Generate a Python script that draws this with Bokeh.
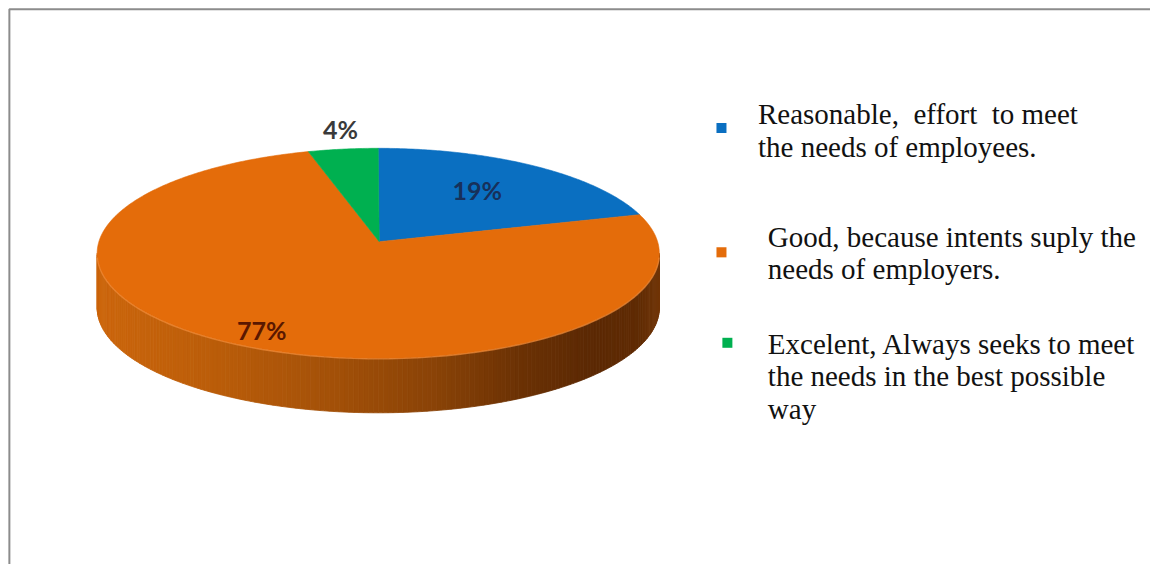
import numpy as np
from bokeh.plotting import figure
from bokeh.models import Range1d
from bokeh.core.properties import value
from bokeh.embed import file_html
from bokeh.resources import INLINE

# ---- data ----
categories = ["Reasonable", "Good", "Excelent"]
percentages = [19, 77, 4]
slice_colors = ["#0A6FC1", "#E46C0A", "#00B050"]
label_colors = ["#17305A", "#5A1800", "#3A3A3A"]
legend_lines = [
    ["Reasonable,\u00a0 effort\u00a0 to meet", "the needs of employees."],
    ["Good, because intents suply the", "needs of employers."],
    ["Excelent, Always seeks to meet", "the needs in the best possible", "way"],
]

# ---- geometry (reference pixel space) ----
CX, CY = 383.0, 260.0      # top ellipse centre
RX, RY = 285.0, 108.0      # top ellipse radii
VX, VY = 384.0, 248.0      # apparent wedge apex (perspective)
DEPTH = 56.0

p = figure(width=1150, height=564, x_range=Range1d(0, 1166), y_range=Range1d(580, 0),
           output_backend="svg", toolbar_location=None, min_border=0)
p.axis.visible = False
p.grid.visible = False
p.outline_line_color = None
p.background_fill_color = "white"
p.border_fill_color = "white"

# frame lines of the original picture
p.line([9, 9, 1180], [600, 9, 9], line_color="#8c8c8c", line_width=2)

def ell(phi_deg, cy=CY):
    ph = np.radians(phi_deg)
    return CX + RX * np.sin(ph), cy - RY * np.cos(ph)

# ---- side of the pie (front half), shaded gradient ----
stops_x = [-1.0, -0.6, -0.2, 0.2, 0.5, 0.75, 0.92, 1.0]
stops_c = [(0xCC, 0x66, 0x0C), (0xBC, 0x5E, 0x0A), (0xA6, 0x52, 0x09), (0x8A, 0x43, 0x07),
           (0x6C, 0x32, 0x05), (0x5C, 0x29, 0x04), (0x60, 0x2C, 0x05), (0x72, 0x36, 0x08)]

def side_color(fx):
    r = np.interp(fx, stops_x, [c[0] for c in stops_c])
    g = np.interp(fx, stops_x, [c[1] for c in stops_c])
    b = np.interp(fx, stops_x, [c[2] for c in stops_c])
    return "#%02x%02x%02x" % (int(r), int(g), int(b))

phis = np.linspace(90, 270, 181)
sxs, sys, scs = [], [], []
for a, b in zip(phis[:-1], phis[1:]):
    x1, y1 = ell(a)
    x2, y2 = ell(b)
    sxs.append([x1, x2, x2, x1])
    sys.append([y1, y2, y2 + DEPTH, y1 + DEPTH])
    scs.append(side_color(((x1 + x2) / 2 - CX) / RX))
p.patches(sxs, sys, fill_color=scs, line_color=scs, line_width=0.8)

# ---- top wedges ----
vals = np.array(percentages, dtype=float)
ends = np.cumsum(vals) / vals.sum() * 360.0
starts = np.concatenate([[0.0], ends[:-1]])
wx, wy = [], []
for s, e in zip(starts, ends):
    ang = np.linspace(s, e, max(int((e - s) * 2), 8))
    ex, ey = ell(ang)
    wx.append([VX] + list(ex))
    wy.append([VY] + list(ey))
p.patches(wx, wy, fill_color=slice_colors, line_color=slice_colors, line_width=0.6)

# highlight along front rim
rim = np.linspace(92, 268, 120)
rx_, ry_ = ell(rim)
p.line(rx_, ry_ + 0.5, line_color="#F08C3A", line_width=1.4, line_alpha=0.7)

# ---- percentage labels ----
mids = (starts + ends) / 2
rfac = [0.62, 0.92, 1.1]
lx, ly = [], []
for m, f in zip(mids, rfac):
    ph = np.radians(m)
    lx.append(VX + RX * f * np.sin(ph))
    ly.append(VY + 2 - RY * f * np.cos(ph))
p.text(x=lx, y=ly, text=[f"{v}%" for v in percentages], text_font=value("Lato"),
       text_font_style="bold", text_font_size="25px", text_color=label_colors,
       text_align="center", text_baseline="middle")

# ---- legend ----
leg_text_x = [768, 778, 778]
leg_first_y = [117, 243, 353]
leg_sq = [(731, 131), (731, 259), (737, 352)]
LINE_H = 33.5
for i, lines in enumerate(legend_lines):
    ys = [leg_first_y[i] + k * LINE_H for k in range(len(lines))]
    p.text(x=[leg_text_x[i]] * len(lines), y=ys, text=lines,
           text_font=value("Liberation Serif"), text_font_size="29px",
           text_color="#111111", text_align="left", text_baseline="middle")
p.scatter(x=[s[0] for s in leg_sq], y=[s[1] for s in leg_sq], marker="square", size=10,
          fill_color=slice_colors, line_color=None)

open("out.html", "w").write(file_html(p, INLINE))
